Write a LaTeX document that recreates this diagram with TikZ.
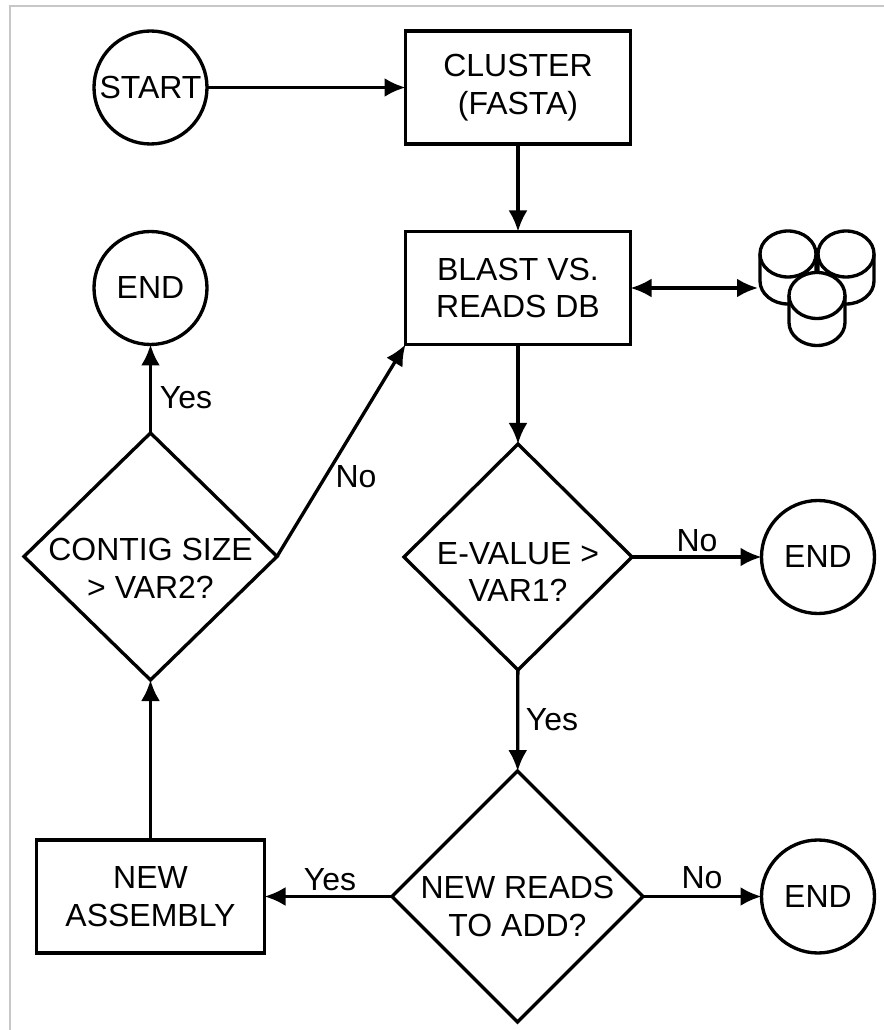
\documentclass[tikz,border=0pt]{standalone}
\usepackage{fontspec}
\setmainfont{Liberation Sans}
\usetikzlibrary{arrows.meta,shapes.geometric}
\newcommand{\droptext}[1]{\rule{0pt}{#1}}
\begin{document}
\begin{tikzpicture}
\tikzset{ >={Latex[length=0.21cm,width=0.19cm]}, inner sep=0pt, outer sep=0pt,
  every node/.append style={font=\fontsize{9.1pt}{10.7pt}\selectfont, align=center},
  flowedge/.style={->, line width=0.95pt},
  terminal/.style={draw, line width=0.95pt, circle, minimum size=1.13cm},
  process/.style={draw, line width=1.05pt, rectangle, minimum width=2.25cm, minimum height=1.13cm},
  decision/.style={draw, line width=0.95pt, diamond, inner sep=-0.5cm},
  dbdisk/.style={draw, line width=0.95pt, fill=white},
  framing/.style={draw=black!22, line width=0.6pt},
}

\useasboundingbox (0,0) rectangle (8.84,10.30);

\draw [framing] (0.10,0) -- (0.10,10.24) -- (8.84,10.24);

\node [terminal] (START) at (1.505,9.425) {START};
\node [process] (CLUSTER) at (5.18,9.425) {CLUSTER\\(FASTA)};
\node [process] (BLAST) at (5.18,7.42) {BLAST VS.\\READS DB};
\node [terminal] (ENDA) at (1.505,7.42) {END};
\node [decision, minimum width=2.53cm, minimum height=2.47cm] (CONTIG) at (1.505,4.735) {\droptext{0.46cm}CONTIG SIZE\\> VAR2?};
\node [decision, minimum width=2.28cm, minimum height=2.26cm] (EVALUE) at (5.18,4.73) {\droptext{0.52cm}E-VALUE >\\VAR1?};
\node [terminal] (ENDB) at (8.18,4.73) {END};
\node [decision, minimum width=2.51cm, minimum height=2.51cm] (READS) at (5.175,1.335) {\droptext{0.42cm}NEW READS\\TO ADD?};
\node [terminal] (ENDC) at (8.18,1.335) {END};
\node [process, minimum width=2.28cm] (ASSEMBLY) at (1.505,1.335) {NEW\\ASSEMBLY};

% three disks
\foreach \cx/\cy in {7.88/7.76, 8.46/7.76, 8.17/7.345} {
  \draw [dbdisk] (\cx-0.28,\cy) -- (\cx-0.28,\cy-0.27) arc (180:360:0.28 and 0.23) -- (\cx+0.28,\cy);
  \draw [dbdisk] (\cx,\cy) ellipse (0.28 and 0.23);
}
\coordinate (DB) at (7.58,7.42);

\draw [flowedge] (START) -- (CLUSTER);
\draw [flowedge] (CLUSTER) -- (BLAST);
\draw [flowedge, <->] (BLAST) -- (DB);
\draw [flowedge] (BLAST) -- (EVALUE);
\draw [flowedge] (EVALUE) -- (ENDB);
\draw [flowedge] (EVALUE) -- (READS);
\draw [flowedge] (READS) -- (ENDC);
\draw [flowedge] (READS) -- (ASSEMBLY);
\draw [flowedge] (ASSEMBLY) -- (CONTIG);
\draw [flowedge] (CONTIG) -- (ENDA);
\draw [flowedge] (CONTIG.east) -- (BLAST.south west);

\node (YESA) at (1.86,6.32) {Yes};
\node (NOA) at (3.56,5.53) {No};
\node (NOB) at (6.97,4.89) {No};
\node (YESB) at (5.52,3.10) {Yes};
\node (YESC) at (3.30,1.50) {Yes};
\node (NOC) at (7.02,1.52) {No};

\end{tikzpicture}
\end{document}
